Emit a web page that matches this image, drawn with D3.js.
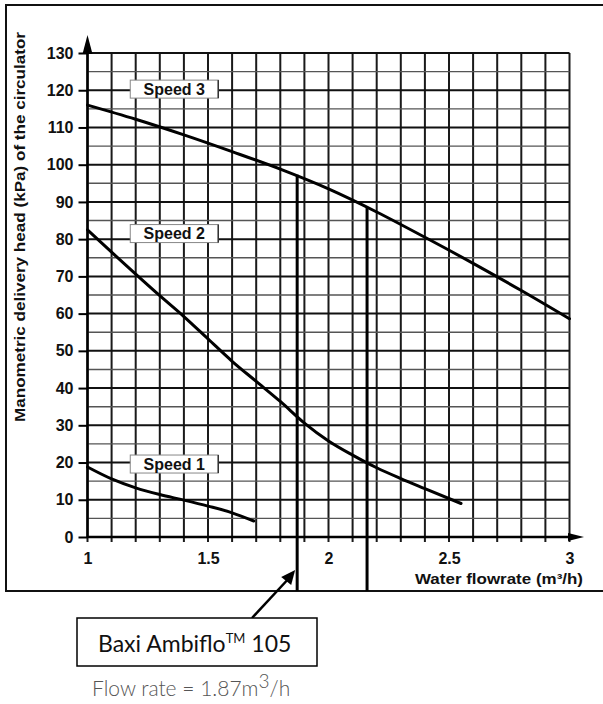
<!DOCTYPE html>
<html lang="en">
  <head>
    <meta charset="utf-8">
    <title>Circulator head curves</title>
    <script src="https://cdn.jsdelivr.net/npm/d3@7"></script>
    <style>
      body { margin: 0; background: white; }
      .chart text {
        font-family: "Liberation Sans", Arial, sans-serif;
        font-weight: bold;
        fill: #111;
      }
      .note text {
        font-family: Lato, "Open Sans", sans-serif;
      }
    </style>
  </head>
  <body>
    <script>

        var w = 603;
        var h = 704;

        // pump curves
        var flow3 = [1.0, 1.2, 1.4, 1.6, 1.8, 2.0, 2.2, 2.4, 2.6, 2.8, 3.0];
        var head3 = [116, 112.2, 108, 103.5, 98.8, 93.5, 87.3, 80.5, 73.5, 66.2, 58.6];

        var flow2 = [1.0, 1.1, 1.2, 1.3, 1.4, 1.5, 1.6, 1.7, 1.8, 1.9, 2.0, 2.1, 2.2, 2.3, 2.4, 2.55];
        var head2 = [82.5, 76.5, 70.6, 64.8, 59.2, 53.2, 47.2, 41.8, 36.4, 30.6, 25.8, 22, 18.6, 15.7, 13, 9];

        var flow1 = [1.0, 1.1, 1.2, 1.3, 1.4, 1.5, 1.6, 1.69];
        var head1 = [18.8, 15.6, 13.2, 11.4, 9.9, 8.3, 6.5, 4.3];

        var speedNames = ["Speed 3", "Speed 2", "Speed 1"];
        var speedLabelFlow = [1.36, 1.36, 1.36];
        var speedLabelHead = [120.3, 81.5, 19.6];

        // the two marked flow rates and where they meet speed 3
        var markFlow = [1.87, 2.16];
        var markHead = [97.3, 88.4];

        var xTickLabels = [1, 1.5, 2, 2.5, 3];
        var yTickLabels = d3.range(0, 131, 10);

        var x = d3.scaleLinear().domain([1, 3]).range([87.5, 569.5]);
        var y = d3.scaleLinear().domain([0, 130]).range([537, 53]);

        var svg = d3.select("body")
                    .append("svg")
                    .attr("width", w)
                    .attr("height", h)
                    .attr("class", "chart");

        // outer frame of the scanned figure
        svg.append("path")
           .attr("d", "M620,5 H6 V591 H620")
           .attr("fill", "none")
           .attr("stroke", "#111")
           .attr("stroke-width", 2);

        // grid
        var grid = svg.append("g");
        var xGrid = d3.range(1, 3.001, 0.1);
        grid.selectAll(".vx")
            .data(xGrid)
            .enter()
            .append("line")
            .attr("x1", function(d) { return x(d); })
            .attr("x2", function(d) { return x(d); })
            .attr("y1", y(130))
            .attr("y2", y(0) + 5)
            .attr("stroke", "#1a1a1a")
            .attr("stroke-width", 2);

        var yGrid = d3.range(5, 131, 5);
        grid.selectAll(".hy")
            .data(yGrid)
            .enter()
            .append("line")
            .attr("x1", x(1))
            .attr("x2", x(3))
            .attr("y1", function(d) { return y(d); })
            .attr("y2", function(d) { return y(d); })
            .attr("stroke", function(d) { return d % 10 === 0 ? "#111" : "#555"; })
            .attr("stroke-width", function(d) { return d % 10 === 0 ? 2 : 1.4; });

        // axes with arrows
        var axisLines = svg.append("g");
        axisLines.append("line")
                 .attr("x1", x(1)).attr("x2", x(1))
                 .attr("y1", y(0)).attr("y2", 45)
                 .attr("stroke", "#000").attr("stroke-width", 2.5);
        axisLines.append("path")
                 .attr("d", d3.line()([[x(1) - 5, 54], [x(1), 35], [x(1) + 5, 54]]) + "Z")
                 .attr("fill", "#000");
        axisLines.append("line")
                 .attr("x1", x(1)).attr("x2", 575)
                 .attr("y1", y(0)).attr("y2", y(0))
                 .attr("stroke", "#000").attr("stroke-width", 2.5);
        axisLines.append("path")
                 .attr("d", d3.line()([[568, y(0) - 4], [584, y(0)], [568, y(0) + 4]]) + "Z")
                 .attr("fill", "#000");

        var yAxis = svg.append("g")
                       .attr("transform", "translate(" + x(1) + ",0)")
                       .call(d3.axisLeft(y).tickValues(yTickLabels).tickSize(9).tickPadding(5));
        yAxis.select(".domain").remove();
        yAxis.selectAll("line").attr("stroke", "#000").attr("stroke-width", 2);
        yAxis.selectAll("text").style("font-size", "16px");

        var xAxis = svg.append("g")
                       .attr("transform", "translate(0," + y(0) + ")")
                       .call(d3.axisBottom(x).tickValues(xTickLabels)
                               .tickFormat(d3.format("")).tickSize(0).tickPadding(16));
        xAxis.select(".domain").remove();
        xAxis.selectAll("text").style("font-size", "16px");

        // axis titles
        svg.append("text")
           .attr("transform", "translate(25,227) rotate(-90)")
           .attr("text-anchor", "middle")
           .attr("textLength", 390)
           .attr("lengthAdjust", "spacingAndGlyphs")
           .style("font-size", "15px")
           .text("Manometric delivery head (kPa) of the circulator");

        svg.append("text")
           .attr("x", 583)
           .attr("y", 584)
           .attr("text-anchor", "end")
           .attr("textLength", 168)
           .attr("lengthAdjust", "spacingAndGlyphs")
           .style("font-size", "15px")
           .text("Water flowrate (m³/h)");

        // marked flow lines
        svg.selectAll(".mark")
           .data(markFlow)
           .enter()
           .append("line")
           .attr("x1", function(d) { return x(d); })
           .attr("x2", function(d) { return x(d); })
           .attr("y1", function(d, i) { return y(markHead[i]); })
           .attr("y2", 591)
           .attr("stroke", "#000")
           .attr("stroke-width", 3);

        // curves
        var series = [
          d3.zip(flow3, head3),
          d3.zip(flow2, head2),
          d3.zip(flow1, head1)
        ];
        var curve = d3.line()
                      .x(function(d) { return x(d[0]); })
                      .y(function(d) { return y(d[1]); })
                      .curve(d3.curveMonotoneX);
        svg.selectAll(".curve")
           .data(series)
           .enter()
           .append("path")
           .attr("d", curve)
           .attr("fill", "none")
           .attr("stroke", "#000")
           .attr("stroke-width", 3)
           .attr("stroke-linecap", "round");

        // speed labels
        var labels = svg.selectAll(".speed")
                        .data(speedNames)
                        .enter()
                        .append("g")
                        .attr("transform", function(d, i) {
                          return "translate(" + x(speedLabelFlow[i]) + "," + y(speedLabelHead[i]) + ")";
                        });
        labels.append("rect")
              .attr("x", -44).attr("y", -9)
              .attr("width", 88).attr("height", 18)
              .attr("fill", "white")
              .attr("stroke", "#888")
              .attr("stroke-width", 1);
        labels.append("line")
              .attr("x1", 44).attr("x2", 44)
              .attr("y1", -9).attr("y2", 9)
              .attr("stroke", "#333").attr("stroke-width", 1.5);
        labels.append("text")
              .attr("text-anchor", "middle")
              .attr("dy", "0.36em")
              .style("font-size", "16px")
              .text(function(d) { return d; });

        // callout below the chart
        var note = svg.append("g").attr("class", "note");
        note.append("line")
            .attr("x1", 252).attr("y1", 618)
            .attr("x2", x(markFlow[0]) - 8).attr("y2", 578)
            .attr("stroke", "#000").attr("stroke-width", 2.5);
        note.append("path")
            .attr("d", "M" + (x(markFlow[0]) - 2) + ",570 l-4,15 l-10,-8 Z")
            .attr("fill", "#000");
        note.append("rect")
            .attr("x", 77).attr("y", 618)
            .attr("width", 240).attr("height", 48)
            .attr("fill", "white")
            .attr("stroke", "#000")
            .attr("stroke-width", 1.5);
        var boxText = note.append("text")
                          .attr("x", 98).attr("y", 652)
                          .style("font-size", "23px")
                          .style("font-weight", "normal");
        boxText.append("tspan").text("Baxi Ambiflo");
        boxText.append("tspan").attr("dy", -9).style("font-size", "13px").text("TM");
        boxText.append("tspan").attr("dy", 9).text(" 105");

        var flowText = note.append("text")
                           .attr("x", 92).attr("y", 696)
                           .style("font-size", "21px")
                           .style("font-weight", "300")
                           .style("fill", "#555");
        flowText.append("tspan").text("Flow rate = " + markFlow[0] + "m");
        flowText.append("tspan").attr("dy", -8).style("font-size", "19px").text("3");
        flowText.append("tspan").attr("dy", 8).text("/h");

    </script>
  </body>
</html>
